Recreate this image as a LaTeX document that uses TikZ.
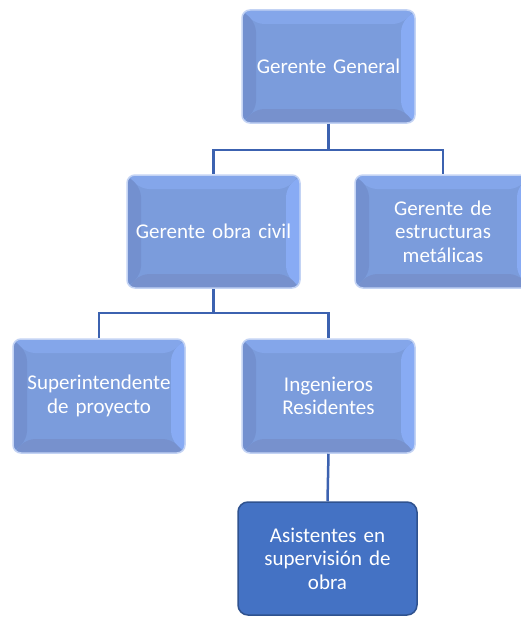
\documentclass[tikz,border=0pt]{standalone}
\usepackage{fontspec}
\setmainfont{Carlito}
\definecolor{midc}{HTML}{7B9CDC}
\definecolor{topc}{HTML}{84A6EA}
\definecolor{leftc}{HTML}{7390CF}
\definecolor{rightc}{HTML}{88ABF4}
\definecolor{botc}{HTML}{7791CD}
\definecolor{glowc}{HTML}{C3D3F4}
\definecolor{linec}{HTML}{3C62B0}
\definecolor{darkfill}{HTML}{4472C4}
\definecolor{darkedge}{HTML}{2F528F}
\tikzset{
  bevelbox/.style={rectangle, rounded corners=8pt, fill=midc, draw=glowc, line width=1.5pt,
    minimum width=173pt, minimum height=113pt, text width=170pt, align=center,
    text=white, font=\fontsize{21}{23.5}\selectfont, inner sep=0pt,
    path picture={
      \def\b{14pt}
      \fill[topc] (path picture bounding box.north west) -- (path picture bounding box.north east)
        -- ([shift={(-\b,-\b)}]path picture bounding box.north east) -- ([shift={(\b,-\b)}]path picture bounding box.north west) -- cycle;
      \fill[leftc] (path picture bounding box.north west) -- ([shift={(\b,-\b)}]path picture bounding box.north west)
        -- ([shift={(\b,\b)}]path picture bounding box.south west) -- (path picture bounding box.south west) -- cycle;
      \fill[rightc] (path picture bounding box.north east) -- ([shift={(-\b,-\b)}]path picture bounding box.north east)
        -- ([shift={(-\b,\b)}]path picture bounding box.south east) -- (path picture bounding box.south east) -- cycle;
      \fill[botc] (path picture bounding box.south west) -- ([shift={(\b,\b)}]path picture bounding box.south west)
        -- ([shift={(-\b,\b)}]path picture bounding box.south east) -- (path picture bounding box.south east) -- cycle;
    }},
  darkbox/.style={rectangle, rounded corners=10pt, fill=darkfill, draw=darkedge, line width=1.5pt,
    minimum width=179pt, minimum height=113pt, text width=170pt, align=center,
    text=white, font=\fontsize{21}{23.5}\selectfont, inner sep=0pt},
  conn/.style={draw=linec, line width=2.5pt}
}
\begin{document}
\begin{tikzpicture}[x=1pt,y=-1pt]
\useasboundingbox (0,0) rectangle (521,618);
\node[bevelbox] (gg) at (328.5,66.5) {Gerente General};
\node[bevelbox] (goc) at (213.5,231.5) {Gerente obra civil};
\node[bevelbox, minimum width=176pt] (gem) at (443,231.5) {Gerente de\\estructuras\\metálicas};
\node[bevelbox, minimum width=172pt, minimum height=114pt] (sup) at (99,396) {Superintendente\\de proyecto};
\node[bevelbox, minimum height=114pt] (ing) at (328.5,396) {Ingenieros\\Residentes};
\node[darkbox] (asi) at (327.5,558.5) {Asistentes en\\supervisión de\\obra};
\coordinate (j1) at (328.5,150);
\coordinate (j2) at (213.5,313);
\draw[conn] (gg.south) -- (j1);
\draw[conn] (j1) -| (goc.north);
\draw[conn] (j1) -| (gem.north);
\draw[conn] (goc.south) -- (j2);
\draw[conn] (j2) -| (sup.north);
\draw[conn] (j2) -| (ing.north);
\draw[conn] (ing.south) -- (asi.north);
\end{tikzpicture}
\end{document}
